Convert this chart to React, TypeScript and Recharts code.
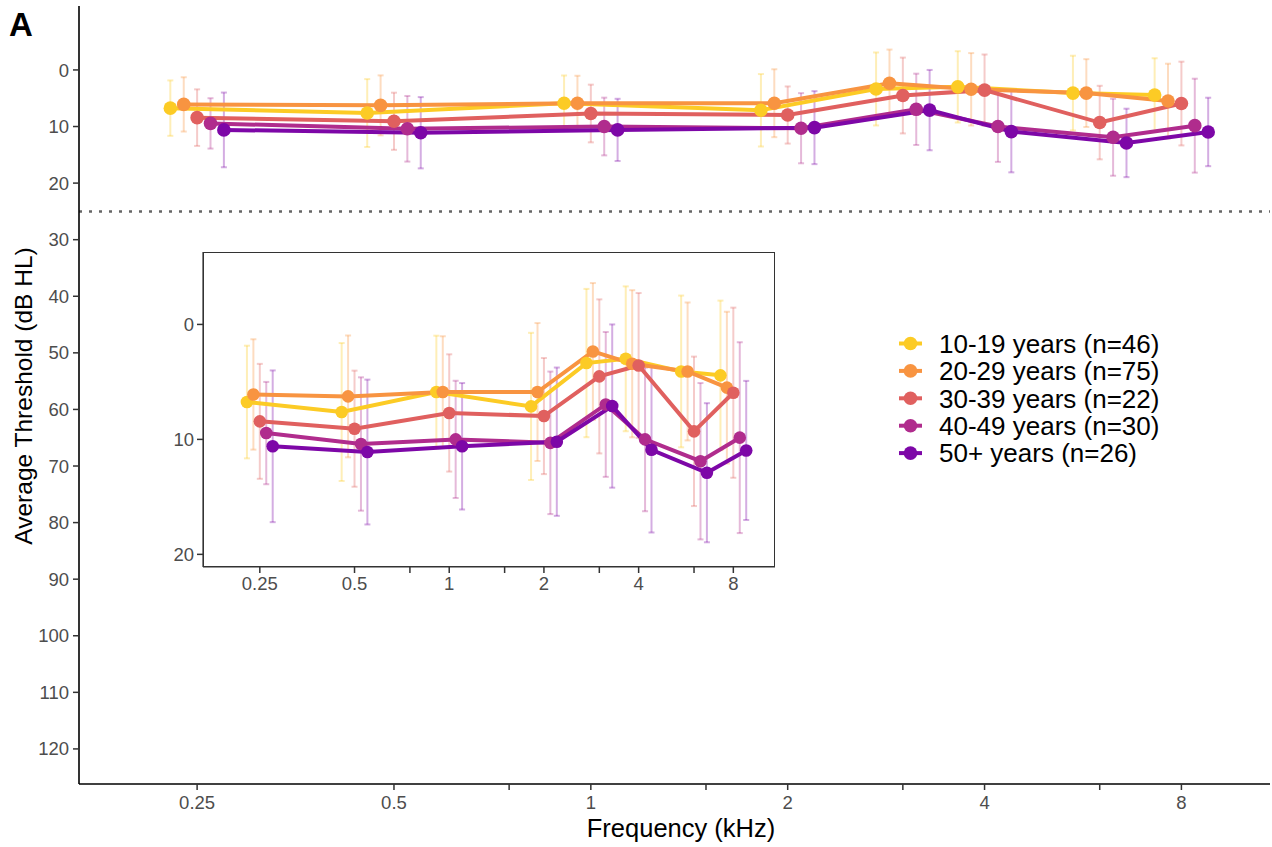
import React from 'react';
import { LineChart, Line, XAxis, YAxis, ErrorBar, ReferenceLine } from 'recharts';

const FONT = '"Liberation Sans", Arial, Helvetica, sans-serif';

const FREQS = [0.25, 0.5, 1, 2, 3, 4, 6, 8];
const GROUP_LABELS = [
  '10-19 years (n=46)',
  '20-29 years (n=75)',
  '30-39 years (n=22)',
  '40-49 years (n=30)',
  '50+ years (n=26)',
];
const COLORS = ['#FCCB25', '#F89441', '#E0605F', '#B02C8D', '#7D07A7'];

const MEAN_10_19 = [6.75, 7.62, 5.88, 7.13, 3.36, 2.99, 4.09, 4.43];
const MEAN_20_29 = [6.09, 6.26, 5.88, 5.88, 2.35, 3.42, 4.09, 5.5];
const MEAN_30_39 = [8.43, 9.07, 7.7, 7.97, 4.52, 3.57, 9.3, 5.94];
const MEAN_40_49 = [9.45, 10.4, 10.0, 10.3, 6.96, 10.0, 11.9, 9.85];
const MEAN_50P = [10.6, 11.1, 10.6, 10.2, 7.1, 10.9, 12.9, 10.96];

const SD_10_19 = [4.9, 6.0, 4.9, 6.4, 6.45, 6.3, 6.6, 6.5];
const SD_20_29 = [4.8, 5.3, 4.85, 6.0, 5.95, 6.4, 6.0, 6.6];
const SD_30_39 = [5.0, 5.05, 5.1, 5.05, 6.7, 6.3, 6.5, 7.4];
const SD_40_49 = [4.45, 5.8, 5.1, 6.2, 6.3, 6.25, 6.8, 8.3];
const SD_50P = [6.6, 6.3, 5.5, 6.45, 7.1, 7.2, 6.05, 6.05];

const TICK_FREQS = [0.25, 0.5, 0.75, 1, 1.5, 2, 3, 4, 6, 8];
const TICK_LABELS = ['0.25', '0.5', '', '1', '', '2', '', '4', '', '8'];
const Y_TICKS_MAIN = [0, 10, 20, 30, 40, 50, 60, 70, 80, 90, 100, 110, 120];
const Y_TICKS_INSET = [0, 10, 20];
const HEARING_LIMIT = 25;

const MEANS = [MEAN_10_19, MEAN_20_29, MEAN_30_39, MEAN_40_49, MEAN_50P];
const SDS = [SD_10_19, SD_20_29, SD_30_39, SD_40_49, SD_50P];
const DODGE = 0.068;

const SERIES = MEANS.map((m, g) =>
  FREQS.map((f, i) => ({ x: Math.log2(f) + (g - 2) * DODGE, y: m[i], sd: SDS[g][i] }))
);
const X_TICKS = TICK_FREQS.map((f) => Math.log2(f));
const fmtX = (v: number) => {
  const idx = X_TICKS.findIndex((t) => Math.abs(t - v) < 1e-6);
  return idx >= 0 ? TICK_LABELS[idx] : '';
};

function renderSeries(prefix: string, r: number, sw: number) {
  const bars = SERIES.map((d, g) => (
    <Line
      key={`${prefix}-eb-${g}`}
      name={`${prefix}-eb-${g}`}
      data={d}
      dataKey="y"
      stroke="none"
      dot={false}
      activeDot={false}
      isAnimationActive={false}
      legendType="none"
    >
      <ErrorBar
        dataKey="sd"
        direction="y"
        width={3}
        stroke={COLORS[g]}
        strokeWidth={2}
        strokeOpacity={0.33}
        isAnimationActive={false}
      />
    </Line>
  ));
  const lines = SERIES.map((d, g) => (
    <Line
      key={`${prefix}-ln-${g}`}
      name={GROUP_LABELS[g]}
      data={d}
      dataKey="y"
      stroke={COLORS[g]}
      strokeWidth={sw}
      dot={{ r, fill: COLORS[g], stroke: COLORS[g], strokeWidth: 0 }}
      activeDot={false}
      isAnimationActive={false}
    />
  ));
  return [...bars, ...lines];
}

const tickStyle = { fontSize: 18.5, fill: '#4D4D4D', fontFamily: FONT };

export default function App() {
  return (
    <div style={{ position: 'absolute', left: 0, top: 0, width: 1272, height: 847, background: '#fff', fontFamily: FONT }}>
      <LineChart width={1272} height={847} margin={{ top: 6, right: 2, bottom: 0, left: 0 }}>
        <XAxis
          type="number"
          dataKey="x"
          domain={[-2.6, 3.45]}
          allowDataOverflow
          ticks={X_TICKS}
          interval={0}
          tickFormatter={fmtX}
          height={63}
          tickSize={6}
          tickMargin={6}
          axisLine={{ stroke: '#000', strokeWidth: 1.6 }}
          tickLine={{ stroke: '#333', strokeWidth: 1.5 }}
          tick={tickStyle}
        />
        <YAxis
          type="number"
          reversed
          domain={[-11.3, 126.2]}
          allowDataOverflow
          ticks={Y_TICKS_MAIN}
          interval={0}
          width={79}
          tickSize={6}
          tickMargin={4}
          axisLine={{ stroke: '#000', strokeWidth: 1.6 }}
          tickLine={{ stroke: '#333', strokeWidth: 1.5 }}
          tick={tickStyle}
        />
        <ReferenceLine y={HEARING_LIMIT} stroke="#666" strokeDasharray="3 7" strokeWidth={2.5} />
        {renderSeries('main', 6.8, 4)}
      </LineChart>

      <div style={{ position: 'absolute', left: 160, top: 246, width: 620, height: 351 }}>
        <LineChart width={620} height={351} margin={{ top: 6, right: 5, bottom: 0, left: 0 }}>
          <XAxis
            type="number"
            dataKey="x"
            domain={[-2.6, 3.44]}
            allowDataOverflow
            ticks={X_TICKS}
            interval={0}
            tickFormatter={fmtX}
            height={30}
            tickSize={6}
            tickMargin={4}
            axisLine={{ stroke: '#333', strokeWidth: 1.2 }}
            tickLine={{ stroke: '#333', strokeWidth: 1.5 }}
            tick={tickStyle}
          />
          <YAxis
            type="number"
            reversed
            domain={[-6.3, 21.1]}
            allowDataOverflow
            ticks={Y_TICKS_INSET}
            interval={0}
            width={43}
            tickSize={6}
            tickMargin={3}
            axisLine={{ stroke: '#333', strokeWidth: 1.2 }}
            tickLine={{ stroke: '#333', strokeWidth: 1.5 }}
            tick={tickStyle}
          />
          {renderSeries('inset', 6.3, 4)}
        </LineChart>
      </div>
      <div
        style={{
          position: 'absolute',
          left: 203,
          top: 252,
          width: 572,
          height: 315,
          border: '1.2px solid #333',
          boxSizing: 'border-box',
          pointerEvents: 'none',
        }}
      />

      <svg
        width={1272}
        height={847}
        style={{ position: 'absolute', left: 0, top: 0, pointerEvents: 'none' }}
      >
        <text x={9} y={36} fontSize={33} fontWeight="bold" fontFamily={FONT} fill="#000">
          A
        </text>
        <text
          x={0}
          y={0}
          transform="translate(32,396) rotate(-90)"
          textAnchor="middle"
          fontSize={24.5}
          fontFamily={FONT}
          fill="#000"
        >
          Average Threshold (dB HL)
        </text>
        <text x={681} y={837} textAnchor="middle" fontSize={25.5} fontFamily={FONT} fill="#000">
          Frequency (kHz)
        </text>
        {GROUP_LABELS.map((lab, g) => {
          const cy = 343.5 + g * 27.4;
          return (
            <g key={lab}>
              <line x1={899} x2={922} y1={cy} y2={cy} stroke={COLORS[g]} strokeWidth={4} />
              <circle cx={910.5} cy={cy} r={6.8} fill={COLORS[g]} />
              <text x={939} y={cy} dy="0.36em" fontSize={26} fontFamily={FONT} fill="#000">
                {lab}
              </text>
            </g>
          );
        })}
      </svg>
    </div>
  );
}
